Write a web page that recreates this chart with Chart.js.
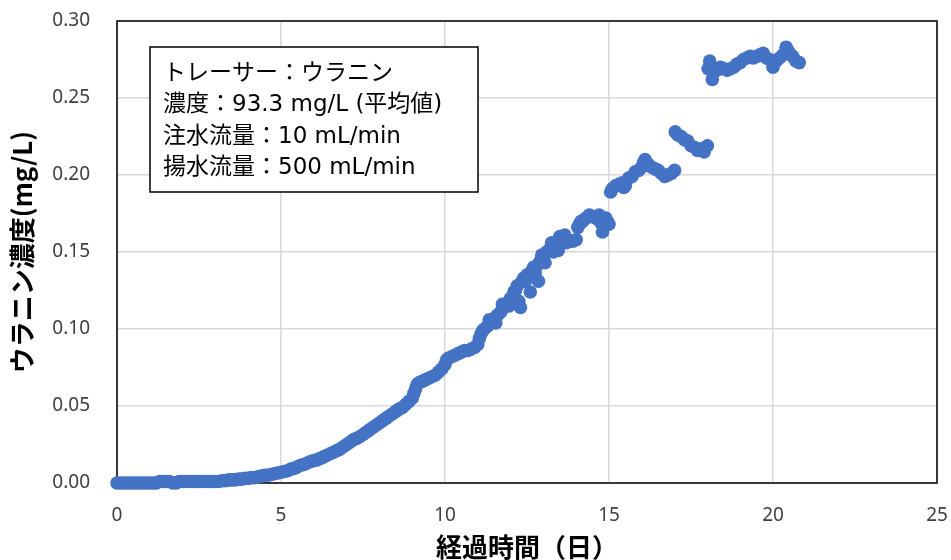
<!DOCTYPE html>
<html lang="ja">
<head>
<meta charset="UTF-8">
<title>ウラニン濃度</title>
<script src="https://cdn.jsdelivr.net/npm/chart.js"></script>
<style>
  html, body { margin: 0; padding: 0; background: #fff; }
  #grafico { display: block; }
</style>
</head>
<body>
<canvas id="grafico" width="951" height="560"></canvas>
<script>
// 経過時間(日) — cada linha corresponde à mesma linha de "concentracao"
const dias = [
  0.0, 0.1, 0.2, 0.3, 0.4, 0.5, 0.6, 0.7, 0.8, 0.9,
  1.0, 1.1, 1.2, 1.3, 1.4, 1.5, 1.6, 1.7, 1.8, 1.9,
  2.0, 2.1, 2.2, 2.3, 2.4, 2.5, 2.6, 2.7, 2.8, 2.9, 3.0,
  3.1, 3.2, 3.3, 3.4, 3.5, 3.6, 3.7, 3.8, 3.9, 4.0,
  4.1, 4.2, 4.3, 4.4, 4.5, 4.6, 4.7, 4.8, 4.9, 5.0,
  5.1, 5.2, 5.3, 5.4, 5.5, 5.6, 5.7, 5.8, 5.9, 6.0,
  6.1, 6.2, 6.3, 6.4, 6.5, 6.6, 6.7, 6.8, 6.9, 7.0,
  7.1, 7.2, 7.3, 7.4, 7.5, 7.6, 7.7, 7.8, 7.9, 8.0,
  8.1, 8.2, 8.3, 8.4, 8.5, 8.6, 8.7, 8.8, 8.9, 9.0,
  9.05, 9.1, 9.15, 9.2, 9.3, 9.4, 9.5, 9.6, 9.7, 9.8, 9.9, 10.0,
  10.05, 10.1, 10.2, 10.3, 10.4, 10.5, 10.6, 10.7, 10.8, 10.9, 11.0,
  11.05, 11.1, 11.15, 11.2, 11.3, 11.35, 11.4, 11.5, 11.55, 11.6, 11.7, 11.75, 11.8, 11.9, 11.95, 12.0,
  12.1, 12.15, 12.2, 12.25, 12.3, 12.35, 12.4, 12.45, 12.5, 12.6, 12.65, 12.7, 12.75, 12.8, 12.85, 12.9, 12.95, 13.0,
  13.05, 13.1, 13.2, 13.25, 13.3, 13.35, 13.4, 13.45, 13.5, 13.55, 13.6, 13.65, 13.7, 13.75, 13.8, 13.9, 14.0,
  14.05, 14.1, 14.15, 14.2, 14.3, 14.4, 14.5, 14.6, 14.7, 14.75, 14.8, 14.85, 14.9, 14.95, 15.0,
  15.05, 15.1, 15.2, 15.3, 15.4, 15.45, 15.5, 15.6, 15.7, 15.8, 15.9, 16.0,
  16.05, 16.1, 16.2, 16.3, 16.4, 16.5, 16.6, 16.7, 16.8, 16.9, 17.0,
  17.02, 17.1, 17.2, 17.3, 17.4, 17.5, 17.6, 17.7, 17.8, 17.9, 18.0,
  18.02, 18.07, 18.1, 18.15, 18.2, 18.3, 18.4, 18.5, 18.6, 18.7, 18.8, 18.9, 19.0,
  19.1, 19.2, 19.3, 19.4, 19.5, 19.6, 19.7, 19.8, 19.9, 20.0,
  20.05, 20.1, 20.2, 20.3, 20.4, 20.45, 20.5, 20.6, 20.7, 20.8
];
// ウラニン濃度(mg/L)
const concentracao = [
  0.000, 0.000, 0.000, 0.000, 0.000, 0.000, 0.000, 0.000, 0.000, 0.000,
  0.000, 0.000, 0.000, 0.001, 0.001, 0.001, 0.001, 0.000, 0.000, 0.001,
  0.001, 0.001, 0.001, 0.001, 0.001, 0.001, 0.001, 0.001, 0.001, 0.001, 0.001,
  0.001, 0.0015, 0.0015, 0.002, 0.002, 0.002, 0.0025, 0.0025, 0.003, 0.003,
  0.0035, 0.0035, 0.004, 0.0045, 0.005, 0.005, 0.0055, 0.006, 0.0065, 0.007,
  0.0075, 0.008, 0.009, 0.0095, 0.0105, 0.0115, 0.012, 0.013, 0.014, 0.0145,
  0.015, 0.016, 0.017, 0.018, 0.019, 0.020, 0.021, 0.022, 0.0235, 0.025,
  0.0265, 0.028, 0.029, 0.030, 0.0315, 0.033, 0.0345, 0.036, 0.0375, 0.039,
  0.0405, 0.042, 0.0435, 0.045, 0.0465, 0.048, 0.049, 0.051, 0.053, 0.055,
  0.058, 0.061, 0.064, 0.065, 0.066, 0.067, 0.068, 0.069, 0.070, 0.072, 0.074, 0.077,
  0.080, 0.081, 0.082, 0.083, 0.084, 0.085, 0.086, 0.086, 0.087, 0.088, 0.090,
  0.094, 0.097, 0.099, 0.100, 0.102, 0.106, 0.104, 0.107, 0.104, 0.109, 0.111, 0.116, 0.114, 0.117, 0.115, 0.120,
  0.124, 0.125, 0.128, 0.118, 0.114, 0.131, 0.133, 0.131, 0.135, 0.124, 0.138, 0.140, 0.136, 0.141, 0.131, 0.144, 0.148, 0.147,
  0.143, 0.150, 0.152, 0.156, 0.150, 0.153, 0.155, 0.151, 0.160, 0.156, 0.157, 0.161, 0.156, 0.158, 0.157, 0.157, 0.158,
  0.166, 0.168, 0.170, 0.170, 0.172, 0.174, 0.173, 0.172, 0.174, 0.169, 0.163, 0.168, 0.172, 0.170, 0.168,
  0.189, 0.191, 0.193, 0.194, 0.195, 0.192, 0.193, 0.198, 0.199, 0.202, 0.203, 0.205,
  0.208, 0.210, 0.207, 0.205, 0.204, 0.203, 0.201, 0.199, 0.200, 0.201, 0.203,
  0.228, 0.226, 0.225, 0.223, 0.222, 0.219, 0.218, 0.216, 0.217, 0.215, 0.219,
  0.269, 0.274, 0.270, 0.262, 0.268, 0.268, 0.270, 0.269, 0.268, 0.269, 0.270, 0.272, 0.273,
  0.275, 0.276, 0.277, 0.276, 0.277, 0.278, 0.279, 0.276, 0.275, 0.270,
  0.273, 0.274, 0.276, 0.278, 0.283, 0.281, 0.279, 0.277, 0.274, 0.273
];
const ticksY = [0, 0.05, 0.10, 0.15, 0.20, 0.25, 0.30];
const ticksX = [0, 5, 10, 15, 20, 25];
const notas = [
  'トレーサー：ウラニン',
  '濃度：93.3 mg/L (平均値)',
  '注水流量：10 mL/min',
  '揚水流量：500 mL/min'
];

const pontos = dias.map((d, i) => ({ x: d, y: concentracao[i] }));

// moldura preta da área do gráfico (desenhada antes dos pontos)
const moldura = {
  id: 'moldura',
  beforeDatasetsDraw(chart) {
    const { ctx, chartArea: a } = chart;
    ctx.save();
    ctx.strokeStyle = '#000';
    ctx.lineWidth = 1.5;
    ctx.strokeRect(a.left, a.top, a.right - a.left, a.bottom - a.top);
    ctx.restore();
  }
};

// caixa de texto com as condições do ensaio
const caixaNotas = {
  id: 'caixaNotas',
  afterDatasetsDraw(chart) {
    const ctx = chart.ctx;
    ctx.save();
    ctx.fillStyle = '#fff';
    ctx.fillRect(150, 47, 328, 145);
    ctx.strokeStyle = '#000';
    ctx.lineWidth = 1.5;
    ctx.strokeRect(150, 47, 328, 145);
    ctx.fillStyle = '#000';
    ctx.font = '23px "DejaVu Sans", "Noto Sans CJK JP"';
    ctx.textBaseline = 'middle';
    notas.forEach((t, i) => ctx.fillText(t, 163, 74 + i * 31.3));
    ctx.restore();
  }
};

new Chart(document.getElementById('grafico'), {
  type: 'scatter',
  data: {
    datasets: [{
      data: pontos,
      pointRadius: 6.8,
      pointBackgroundColor: '#4472C4',
      pointBorderWidth: 0,
      showLine: false,
      clip: false
    }]
  },
  options: {
    responsive: false,
    devicePixelRatio: 1,
    animation: false,
    events: [],
    layout: { padding: { top: 21, right: 14, bottom: 0, left: 0 } },
    plugins: { legend: { display: false }, tooltip: { enabled: false } },
    scales: {
      x: {
        type: 'linear',
        min: 0,
        max: 25,
        afterBuildTicks: s => { s.ticks = ticksX.map(v => ({ value: v })); },
        afterFit: s => { s.height = 77; s.paddingLeft = 0; s.paddingRight = 0; },
        grid: { color: '#d9d9d9', lineWidth: 1.5, drawTicks: false },
        border: { display: false },
        ticks: {
          padding: 21,
          color: '#404040',
          font: { family: '"Noto Sans"', size: 19 },
          callback: v => String(v)
        },
        title: {
          display: true,
          text: '経過時間（日）',
          color: '#000',
          padding: { top: 0, bottom: 0 },
          font: { family: '"Noto Sans CJK JP"', size: 26, weight: 'bold', lineHeight: 1 }
        }
      },
      y: {
        min: 0,
        max: 0.3,
        afterBuildTicks: s => { s.ticks = ticksY.map(v => ({ value: v })); },
        afterFit: s => { s.width = 117; s.paddingTop = 0; s.paddingBottom = 0; },
        grid: { color: '#d9d9d9', lineWidth: 1.5, drawTicks: false },
        border: { display: false },
        ticks: {
          padding: 27,
          color: '#404040',
          font: { family: '"Noto Sans"', size: 19 },
          callback: v => v.toFixed(2)
        },
        title: {
          display: true,
          text: 'ウラニン濃度(mg/L)',
          color: '#000',
          padding: { top: 9, bottom: 0 },
          font: { family: '"Noto Sans CJK JP"', size: 26, weight: 'bold', lineHeight: 1 }
        }
      }
    }
  },
  plugins: [moldura, caixaNotas]
});
</script>
</body>
</html>
